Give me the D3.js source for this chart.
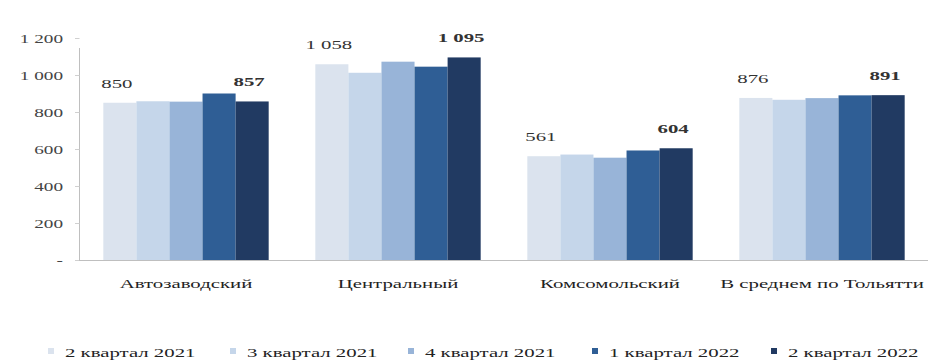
<!DOCTYPE html>
<html><head><meta charset="utf-8">
<script src="https://cdn.jsdelivr.net/npm/d3@7"></script>
<style>body{margin:0;background:#fff}svg{display:block}</style>
</head><body><svg id="c" width="928" height="361"></svg>
<script>
const categories = ["Автозаводский", "Центральный", "Комсомольский", "В среднем по Тольятти"];
const seriesNames = ["2 квартал 2021", "3 квартал 2021", "4 квартал 2021", "1 квартал 2022", "2 квартал 2022"];
const q2_2021 = [850, 1058, 561, 876];
const q3_2021 = [858, 1012, 570, 866];
const q4_2021 = [856, 1072, 553, 875];
const q1_2022 = [900, 1045, 592, 890];
const q2_2022 = [857, 1095, 604, 891];
const yTicks = [0, 200, 400, 600, 800, 1000, 1200];
const colors = ["#dbe3ee", "#c5d6ea", "#98b4d8", "#2f5e95", "#213a62"];

const FONT = "Liberation Serif, DejaVu Serif, Times New Roman, serif";
const SX = 1.6; // horizontal stretch of the reference picture
const series = [q2_2021, q3_2021, q4_2021, q1_2022, q2_2022];
const svg = d3.select("#c");
const x0 = d3.scaleBand().domain(categories).range([80, 928]).paddingInner(0.22).paddingOuter(0.11);
const x1 = d3.scaleBand().domain(d3.range(5)).range([0, x0.bandwidth()]).padding(0);
const y = d3.scaleLinear().domain([0, 1200]).range([260, 38]);
const fmt = v => v === 0 ? "-" : d3.format(",")(v).replace(/,/g, " ");

function txt(parent, x, yy, s, anchor, size, opts = {}) {
  return parent.append("text")
    .attr("transform", `translate(${x},${yy}) scale(${SX},1)`)
    .attr("text-anchor", anchor).attr("font-size", size)
    .style("font-family", FONT).attr("fill", opts.fill || "#262626")
    .attr("font-weight", opts.bold ? "bold" : "normal")
    .text(s);
}

// bars
categories.forEach((c, ci) => {
  const g = svg.append("g").attr("transform", `translate(${x0(c)},0)`);
  g.selectAll("rect").data(series.map((s, si) => ({si, v: s[ci]}))).join("rect")
    .attr("x", d => x1(d.si)).attr("width", x1.bandwidth())
    .attr("y", d => y(d.v)).attr("height", d => y(0) - y(d.v))
    .attr("fill", d => colors[d.si]);
  [0, 4].forEach(si => {
    txt(g, x1(si) + x1.bandwidth() / 2 - 3, y(series[si][ci]) - 15, fmt(series[si][ci]), "middle", 13,
      {bold: si === 4, fill: "#333"});
  });
});

// y axis
const ya = svg.append("g");
ya.append("line").attr("x1", 79.5).attr("x2", 79.5).attr("y1", y(1200) + 10).attr("y2", y(0)).attr("stroke", "#bfbfbf");
yTicks.forEach(t => {
  ya.append("line").attr("x1", 75).attr("x2", 79.5).attr("y1", Math.round(y(t)) + 0.5).attr("y2", Math.round(y(t)) + 0.5).attr("stroke", "#d0d0d0");
  txt(ya, 63, y(t) + 4.5, fmt(t), "end", 12, {fill: "#444"});
});

// x baseline & labels
svg.append("line").attr("x1", 79).attr("x2", 928).attr("y1", y(0) + 0.5).attr("y2", y(0) + 0.5).attr("stroke", "#bfbfbf");
categories.forEach(c => txt(svg, x0(c) + x0.bandwidth() / 2, 288, c, "middle", 13, {fill: "#222"}));

// legend
const legX = [48, 230, 408, 592, 771];
const leg = svg.append("g");
seriesNames.forEach((n, i) => {
  leg.append("rect").attr("x", legX[i]).attr("y", 348).attr("width", 6).attr("height", 6).attr("fill", colors[i]);
  txt(leg, legX[i] + 17, 357, n, "start", 13, {fill: "#222"});
});
</script></body></html>
